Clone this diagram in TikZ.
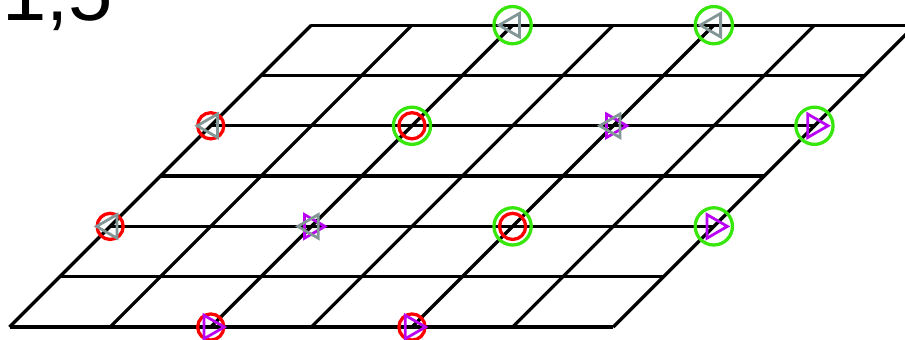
\documentclass[tikz,border=0pt]{standalone}
\usepackage{fontspec}
\setmainfont{Liberation Sans}
\usetikzlibrary{calc}
\definecolor{mgreen}{RGB}{55,230,10}
\definecolor{mred}{RGB}{255,0,0}
\definecolor{mpurple}{RGB}{185,0,245}
\definecolor{mgrey}{RGB}{130,150,150}
\tikzset{
  gridline/.style={line width=0.065cm, black},
  greenring/.style={draw=mgreen, line width=0.065cm},
  redring/.style={draw=mred, line width=0.065cm},
  tri/.style={line width=0.055cm, line join=miter},
}
\newcommand{\greenc}[1]{\draw[greenring] (#1) circle (0.37);}
\newcommand{\redc}[1]{\draw[redring] (#1) circle (0.26);}
\newcommand{\lefttri}[1]{\draw[tri, mgrey] ($(#1)+(180:0.27)$) -- ($(#1)+(60:0.27)$) -- ($(#1)+(-60:0.27)$) -- cycle;}
\newcommand{\righttri}[1]{\draw[tri, mpurple] ($(#1)+(0:0.27)$) -- ($(#1)+(120:0.27)$) -- ($(#1)+(240:0.27)$) -- cycle;}
\begin{document}
\begin{tikzpicture}
\clip (-0.189,-0.239) rectangle (17.80,6.50);
\fill[white] (-0.189,-0.239) rectangle (17.80,6.50);
% grid
\foreach \j in {0,...,6} {
  \draw[gridline] (\j,\j) -- (12+\j,\j);
}
\foreach \i in {0,...,6} {
  \draw[gridline] (2*\i,0) -- (2*\i+6,6);
}
% label
\node[anchor=base west, inner sep=0pt, font=\fontsize{45}{52}\selectfont] (lbl) at (-0.15,6.1) {1,5};
% marker positions
\coordinate (a) at (10,6);
\coordinate (b) at (14,6);
\coordinate (c) at (4,4);
\coordinate (d) at (8,4);
\coordinate (e) at (12,4);
\coordinate (f) at (16,4);
\coordinate (g) at (2,2);
\coordinate (h) at (6,2);
\coordinate (k) at (10,2);
\coordinate (l) at (14,2);
\coordinate (m) at (4,0);
\coordinate (n) at (8,0);
% circles
\greenc{a}\greenc{b}\greenc{d}\greenc{f}\greenc{k}\greenc{l}
\redc{c}\redc{d}\redc{g}\redc{k}\redc{m}\redc{n}
% purple right triangles
\righttri{e}\righttri{f}\righttri{h}\righttri{l}\righttri{m}\righttri{n}
% grey left triangles
\lefttri{a}\lefttri{b}\lefttri{c}\lefttri{e}\lefttri{g}\lefttri{h}
\end{tikzpicture}
\end{document}
